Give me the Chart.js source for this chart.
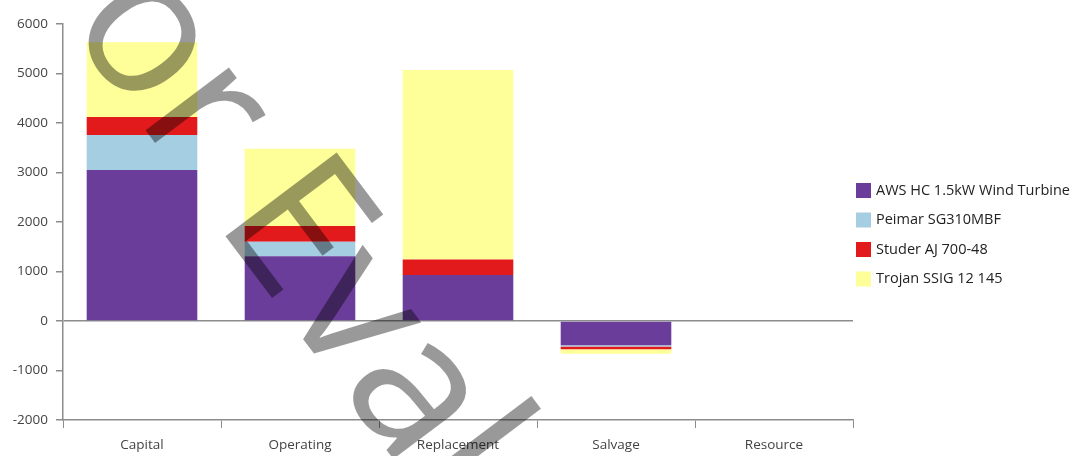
<!DOCTYPE html>
<html>
<head>
<meta charset="utf-8">
<script src="https://cdn.jsdelivr.net/npm/chart.js@4"></script>
<style>
  html, body { margin: 0; padding: 0; background: #fff; }
  #wrap { width: 1081px; height: 456px; }
</style>
</head>
<body>
<div id="wrap"><canvas id="myChart" width="1081" height="456"></canvas></div>
<script>
const categories = ["Capital", "Operating", "Replacement", "Salvage", "Resource"];

const windTurbine = [3050, 1310, 930, -490, 0];
const peimar = [710, 290, 0, -25, 0];
const studer = [360, 320, 310, -55, 0];
const trojan = [1510, 1560, 3830, -90, 0];

const yTicks = [-2000, -1000, 0, 1000, 2000, 3000, 4000, 5000, 6000];

const axisColor = "#8c8c8c";
const fontFamily = "'Open Sans', 'Noto Sans', sans-serif";

// legend column to the right of the plot
const sideLegend = {
  id: "sideLegend",
  afterDraw(chart) {
    const ctx = chart.ctx;
    const left = chart.chartArea.right + 3;
    ctx.save();
    ctx.font = "14.5px " + fontFamily;
    ctx.textBaseline = "middle";
    ctx.textAlign = "left";
    chart.data.datasets.forEach((ds, i) => {
      const cy = 190.5 + i * 29.5;
      ctx.fillStyle = ds.backgroundColor;
      ctx.fillRect(left, cy - 7.5, 15, 15);
      ctx.fillStyle = "#222";
      ctx.fillText(ds.label, left + 20, cy);
    });
    ctx.restore();
  },
};

// big grey stamp across the plot
const watermark = {
  id: "watermark",
  afterDraw(chart) {
    const ctx = chart.ctx;
    ctx.save();
    ctx.font = "195px " + fontFamily;
    ctx.fillStyle = "rgba(0, 0, 0, 0.4)";
    ctx.textBaseline = "alphabetic";
    const lead = ctx.measureText("For ").width;
    ctx.translate(214, 221);
    ctx.rotate((53 * Math.PI) / 180);
    ctx.fillText("For Evaluation", -lead, 0);
    ctx.restore();
  },
};

function makeChart() {
  const ctx = document.getElementById("myChart").getContext("2d");
  const barOpts = { barPercentage: 0.7, categoryPercentage: 1, borderWidth: 0 };
  return new Chart(ctx, {
    type: "bar",
    data: {
      labels: categories,
      datasets: [
        { label: "AWS HC 1.5kW Wind Turbine", data: windTurbine, backgroundColor: "#6a3d9a", ...barOpts },
        { label: "Peimar SG310MBF", data: peimar, backgroundColor: "#a6cee3", ...barOpts },
        { label: "Studer AJ 700-48", data: studer, backgroundColor: "#e31a1c", ...barOpts },
        { label: "Trojan SSIG 12 145", data: trojan, backgroundColor: "#ffff99", ...barOpts },
      ],
    },
    options: {
      responsive: false,
      animation: false,
      layout: { padding: { top: 24, left: 0, right: 228, bottom: 0 } },
      scales: {
        x: {
          stacked: true,
          afterFit: (scale) => {
            scale.height = 36;
          },
          grid: {
            offset: true,
            drawOnChartArea: false,
            color: axisColor,
            tickLength: 8,
          },
          border: { color: axisColor, width: 1.5 },
          ticks: {
            color: "#444",
            font: { family: fontFamily, size: 13.5 },
            padding: 9,
          },
        },
        y: {
          stacked: true,
          min: -2000,
          max: 6000,
          afterFit: (scale) => {
            scale.width = 63;
          },
          afterBuildTicks: (axis) => {
            axis.ticks = yTicks.map((v) => ({ value: v }));
          },
          grid: {
            color: (c) => (c.tick && c.tick.value === 0 ? axisColor : "transparent"),
            lineWidth: 1.5,
            tickColor: axisColor,
            tickLength: 7,
          },
          border: { color: axisColor, width: 1.5 },
          ticks: {
            color: "#444",
            font: { family: fontFamily, size: 13.5 },
            padding: 8,
            callback: (v) => String(v),
          },
        },
      },
      plugins: {
        legend: { display: false },
        tooltip: { enabled: false },
      },
    },
    plugins: [sideLegend, watermark],
  });
}

makeChart();
</script>
</body>
</html>
